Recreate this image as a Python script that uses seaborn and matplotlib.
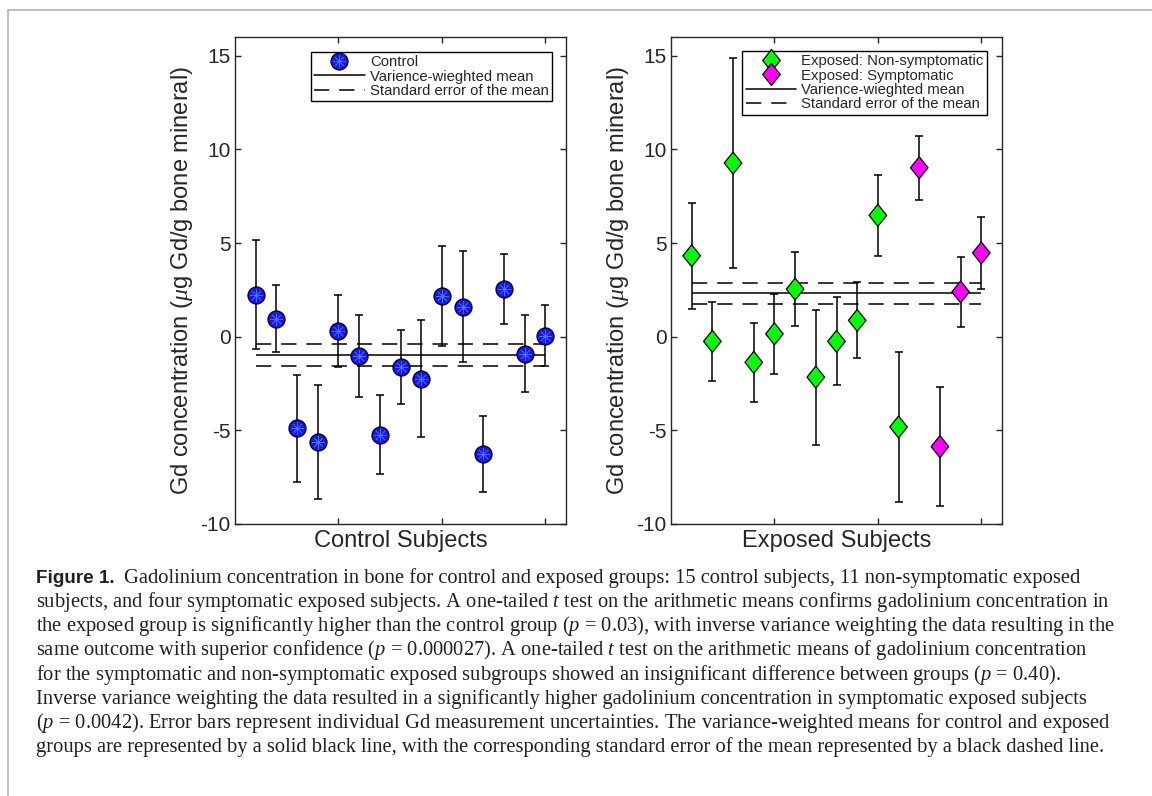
import numpy as np
import pandas as pd
import matplotlib
matplotlib.use("Agg")
import matplotlib.pyplot as plt
from matplotlib.lines import Line2D
from matplotlib.path import Path
import seaborn as sns

# ---------------- data ----------------
control_subject = [1, 2, 3, 4, 5, 6, 7, 8, 9, 10, 11, 12, 13, 14, 15]
control_gd = [2.24, 0.96, -4.90, -5.63, 0.32, -1.04, -5.23, -1.61, -2.25, 2.17, 1.60, -6.26, 2.55, -0.90, 0.06]
control_err = [2.90, 1.80, 2.87, 3.05, 1.92, 2.20, 2.10, 1.97, 3.13, 2.65, 2.95, 2.03, 1.87, 2.06, 1.65]

exposed_subject = [1, 2, 3, 4, 5, 6, 7, 8, 9, 10, 11, 12, 13, 14, 15]
exposed_gd = [4.32, -0.25, 9.27, -1.37, 0.15, 2.54, -2.16, -0.25, 0.87, 6.48, -4.82, 9.02, -5.87, 2.39, 4.47]
exposed_err = [2.82, 2.10, 5.62, 2.10, 2.14, 1.98, 3.61, 2.35, 2.03, 2.15, 4.01, 1.72, 3.19, 1.88, 1.90]
exposed_group = ["Exposed: Non-symptomatic", "Exposed: Non-symptomatic", "Exposed: Non-symptomatic",
                 "Exposed: Non-symptomatic", "Exposed: Non-symptomatic", "Exposed: Non-symptomatic",
                 "Exposed: Non-symptomatic", "Exposed: Non-symptomatic", "Exposed: Non-symptomatic",
                 "Exposed: Non-symptomatic", "Exposed: Non-symptomatic", "Exposed: Symptomatic",
                 "Exposed: Symptomatic", "Exposed: Symptomatic", "Exposed: Symptomatic"]

control_wmean = -0.97
control_sem = 0.58
exposed_wmean = 2.32
exposed_sem = 0.57

y_ticks = [-10, -5, 0, 5, 10, 15]
x_ticks = [5, 10, 15]
y_label = "Gd concentration ($\\mu$g Gd/g bone mineral)"
x_labels = ["Control Subjects", "Exposed Subjects"]
legend_control = ["Control", "Varience-wieghted mean", "Standard error of the mean"]
legend_exposed = ["Exposed: Non-symptomatic", "Exposed: Symptomatic",
                  "Varience-wieghted mean", "Standard error of the mean"]

caption_head = "Figure 1."
caption_lines = [
    "Gadolinium concentration in bone for control and exposed groups: 15 control subjects, 11 non-symptomatic exposed",
    "subjects, and four symptomatic exposed subjects. A one-tailed $t$ test on the arithmetic means confirms gadolinium concentration in",
    "the exposed group is significantly higher than the control group ($p$ = 0.03), with inverse variance weighting the data resulting in the",
    "same outcome with superior confidence ($p$ = 0.000027). A one-tailed $t$ test on the arithmetic means of gadolinium concentration",
    "for the symptomatic and non-symptomatic exposed subgroups showed an insignificant difference between groups ($p$ = 0.40).",
    "Inverse variance weighting the data resulted in a significantly higher gadolinium concentration in symptomatic exposed subjects",
    "($p$ = 0.0042). Error bars represent individual Gd measurement uncertainties. The variance-weighted means for control and exposed",
    "groups are represented by a solid black line, with the corresponding standard error of the mean represented by a black dashed line.",
]

# ---------------- style ----------------
sns.set_theme(style="ticks", rc={
    "axes.unicode_minus": False,
    "xtick.direction": "in", "ytick.direction": "in",
    "xtick.top": True, "ytick.right": True,
    "axes.linewidth": 1.0, "axes.edgecolor": "#262626",
    "xtick.color": "#262626", "ytick.color": "#262626",
    "xtick.major.size": 4, "ytick.major.size": 4,
    "xtick.major.width": 1.0, "ytick.major.width": 1.0,
    "mathtext.fontset": "custom",
    "mathtext.it": "Liberation Serif:italic",
    "mathtext.rm": "Liberation Serif",
    "mathtext.bf": "Liberation Serif:bold",
})
plt.rcParams["font.family"] = ["Liberation Sans", "DejaVu Sans"]

W, H = 1152, 796
fig = plt.figure(figsize=(W / 100, H / 100), dpi=100)

diamond = Path([(-0.8, 0), (0, 1), (0.8, 0), (0, -1), (-0.8, 0)],
               [Path.MOVETO, Path.LINETO, Path.LINETO, Path.LINETO, Path.CLOSEPOLY])

BLUE = "#1414ff"
GREEN = "#00ff00"
MAGENTA = "#ff00ff"
STAR = "#4f70ff"
dash = (0, (10, 6.5))

AX_TOP, AX_BOT = 37, 524

def frame(ax, xlabel):
    ax.set_xlim(0, 16)
    ax.set_ylim(-10, 16)
    ax.set_xticks(x_ticks)
    ax.set_xticklabels([])
    ax.set_yticks(y_ticks)
    ax.tick_params(axis="y", labelsize=15, pad=3)
    ax.set_ylabel(y_label, fontsize=17, labelpad=4)
    ax.set_xlabel(xlabel, fontsize=17, labelpad=1)
    for s in ax.spines.values():
        s.set_visible(True)
        s.set_linewidth(1.0)

def mean_lines(ax, x, m, sem):
    ax.hlines(m, x[0], x[-1], color="black", lw=1.1, zorder=1)
    ax.hlines([m + sem, m - sem], x[0], x[-1], color="black", lw=1.1,
              linestyles=[dash], zorder=1)

leg_kw = dict(loc="upper right", borderaxespad=0, fontsize=10.7, labelspacing=0.02,
              handlelength=3.4, handletextpad=0.35, borderpad=0.22, fancybox=False,
              framealpha=1, edgecolor="black")

# ---------------- left panel ----------------
ax1 = fig.add_axes([235 / W, 1 - AX_BOT / H, 331 / W, (AX_BOT - AX_TOP) / H])
df_c = pd.DataFrame({"subject": control_subject, "gd": control_gd, "err": control_err})
mean_lines(ax1, control_subject, control_wmean, control_sem)
ax1.errorbar(df_c["subject"], df_c["gd"], yerr=df_c["err"], fmt="none", ecolor="black",
             elinewidth=1.1, capsize=3, capthick=1.1, zorder=2)
sns.scatterplot(data=df_c, x="subject", y="gd", ax=ax1, marker="o", s=150, color=BLUE,
                edgecolor="black", linewidth=0.9, zorder=3, legend=False)
sns.scatterplot(data=df_c, x="subject", y="gd", ax=ax1, marker=(8, 2, 0), s=80,
                color=STAR, linewidth=0.5, zorder=4, legend=False)
frame(ax1, x_labels[0])

h_c = [
    (Line2D([], [], ls="none", marker="o", ms=12.2, mfc=BLUE, mec="black", mew=0.9),
     Line2D([], [], ls="none", marker=(8, 2, 0), ms=9, mec=STAR, mew=0.5)),
    Line2D([], [], color="black", lw=1.1),
    Line2D([], [], color="black", lw=1.1, ls=dash),
]
leg1 = ax1.legend(h_c, legend_control, bbox_to_anchor=(0.958, 0.969), **leg_kw)
leg1.get_frame().set_linewidth(1.0)

# ---------------- right panel ----------------
ax2 = fig.add_axes([671 / W, 1 - AX_BOT / H, 331 / W, (AX_BOT - AX_TOP) / H])
df_e = pd.DataFrame({"subject": exposed_subject, "gd": exposed_gd, "err": exposed_err,
                     "group": exposed_group})
mean_lines(ax2, exposed_subject, exposed_wmean, exposed_sem)
ax2.errorbar(df_e["subject"], df_e["gd"], yerr=df_e["err"], fmt="none", ecolor="black",
             elinewidth=1.1, capsize=3, capthick=1.1, zorder=2)
sns.scatterplot(data=df_e, x="subject", y="gd", hue="group", ax=ax2, marker=diamond, s=250,
                palette={"Exposed: Non-symptomatic": GREEN, "Exposed: Symptomatic": MAGENTA},
                edgecolor="black", linewidth=0.9, zorder=3, legend=False)
frame(ax2, x_labels[1])

h_e = [
    Line2D([], [], ls="none", marker=diamond, ms=15.8, mfc=GREEN, mec="black", mew=0.9),
    Line2D([], [], ls="none", marker=diamond, ms=15.8, mfc=MAGENTA, mec="black", mew=0.9),
    Line2D([], [], color="black", lw=1.1),
    Line2D([], [], color="black", lw=1.1, ls=dash),
]
leg2 = ax2.legend(h_e, legend_exposed, bbox_to_anchor=(0.955, 0.971), **leg_kw)
leg2.get_frame().set_linewidth(1.0)

# ---------------- page frame ----------------
fig.add_artist(Line2D([8 / W, 8 / W], [0, 1 - 10 / H], transform=fig.transFigure,
                      color="#b5b5b5", lw=1.2))
fig.add_artist(Line2D([8 / W, 1], [1 - 10 / H, 1 - 10 / H], transform=fig.transFigure,
                      color="#b5b5b5", lw=1.2))

# ---------------- caption ----------------
serif = ["Liberation Serif", "DejaVu Serif"]
x0 = 36
base0 = 583
step = 24.15
fs_cap = 14.8
renderer = fig.canvas.get_renderer()
head = fig.text(x0 / W, 1 - base0 / H, caption_head, fontsize=13.6, fontweight="bold",
                family=["Liberation Sans", "DejaVu Sans"], va="baseline", ha="left",
                color="#231f20")
hw = head.get_window_extent(renderer).width
for i, line in enumerate(caption_lines):
    xx = x0 + (hw + 9 if i == 0 else 0)
    fig.text(xx / W, 1 - (base0 + step * i) / H, line, fontsize=fs_cap, family=serif,
             va="baseline", ha="left", color="#231f20")

fig.savefig("out.png", dpi=100)
